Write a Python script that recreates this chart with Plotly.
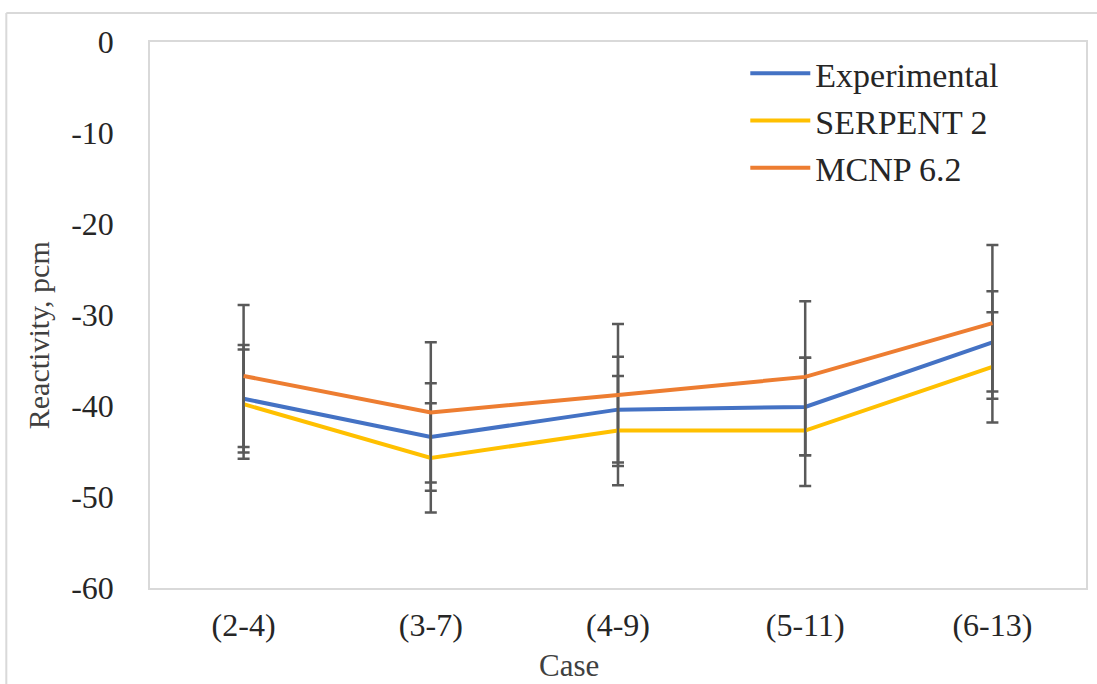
import plotly.graph_objects as go

cases = ["(2-4)", "(3-7)", "(4-9)", "(5-11)", "(6-13)"]

experimental = [-39.2, -43.4, -40.4, -40.1, -33.0]
exp_err_plus = [5.9, 5.9, 5.8, 5.4, 5.6]
exp_err_minus = [5.9, 5.9, 5.8, 5.3, 5.4]

serpent = [-39.8, -45.7, -42.7, -42.7, -35.7]
serp_err_plus = [6.0, 6.0, 6.0, 8.0, 6.0]
serp_err_minus = [6.0, 6.0, 6.0, 6.1, 6.1]

mcnp = [-36.7, -40.7, -38.8, -36.8, -30.9]
mcnp_err_plus = [7.8, 7.7, 7.8, 8.3, 8.6]
mcnp_err_minus = [7.8, 7.7, 7.8, 8.6, 8.3]

y_ticks = [0, -10, -20, -30, -40, -50, -60]
y_tick_labels = ["0", "-10", "-20", "-30", "-40", "-50", "-60"]

FONT = "Liberation Serif, Times New Roman, serif"
ERR_COLOR = "#595959"

series = [
    ("Experimental", experimental, exp_err_plus, exp_err_minus, "#4472C4"),
    ("SERPENT 2", serpent, serp_err_plus, serp_err_minus, "#FFC000"),
    ("MCNP 6.2", mcnp, mcnp_err_plus, mcnp_err_minus, "#ED7D31"),
]

fig = go.Figure()
for name, vals, ep, em, color in series:
    fig.add_trace(go.Scatter(
        x=cases, y=vals, name=name, mode="lines",
        line=dict(color=color, width=4),
        error_y=dict(type="data", symmetric=False, array=ep, arrayminus=em,
                     color=ERR_COLOR, thickness=2.5, width=6),
    ))

fig.update_layout(
    width=1097, height=684,
    margin=dict(l=150, r=9, t=42, b=96),
    paper_bgcolor="white", plot_bgcolor="white",
    font=dict(family=FONT, color="#000000", size=32),
    showlegend=True,
    legend=dict(x=0.636, y=0.995, xanchor="left", yanchor="top",
                font=dict(family=FONT, size=34, color="#262626"),
                bgcolor="rgba(0,0,0,0)", itemwidth=60, tracegroupgap=0),
    xaxis=dict(type="category", range=[-0.5, 4.5], showgrid=False,
               showline=True, mirror=True, linecolor="#D9D9D9", linewidth=1.5,
               ticks="", tickfont=dict(family=FONT, size=32, color="#262626"),
               ticklabelstandoff=8, zeroline=False),
    yaxis=dict(range=[-60, 0], tickvals=y_ticks, ticktext=y_tick_labels, showgrid=False,
               showline=True, mirror=True, linecolor="#D9D9D9", linewidth=1.5,
               ticks="", tickfont=dict(family=FONT, size=32, color="#262626"),
               ticklabelstandoff=28, zeroline=False),
    annotations=[
        dict(text="Reactivity, pcm", textangle=-90, xref="paper", yref="paper",
             x=(38 - 150) / 938, y=(588 - 335) / 546, xanchor="center", yanchor="middle",
             showarrow=False, font=dict(family=FONT, size=30, color="#404040")),
        dict(text="Case", xref="paper", yref="paper",
             x=(570 - 150) / 938, y=(588 - 665) / 546, xanchor="center", yanchor="middle",
             showarrow=False, font=dict(family=FONT, size=31, color="#404040")),
    ],
    shapes=[
        dict(type="line", xref="paper", yref="paper",
             x0=(6 - 150) / 938, x1=1.2, y0=(588 - 13) / 546, y1=(588 - 13) / 546,
             line=dict(color="#D9D9D9", width=2)),
        dict(type="line", xref="paper", yref="paper",
             x0=(6 - 150) / 938, x1=(6 - 150) / 938, y0=(588 - 13) / 546, y1=-0.3,
             line=dict(color="#D9D9D9", width=2)),
    ],
)

fig.write_html("out.html")
